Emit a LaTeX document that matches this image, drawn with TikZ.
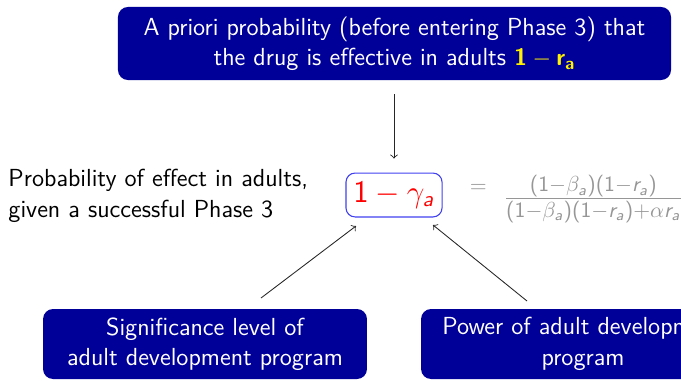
\documentclass[tikz,border=0pt]{standalone}
\renewcommand{\familydefault}{\sfdefault}
\DeclareSymbolFont{operators}{OT1}{cmss}{m}{n}
\SetSymbolFont{operators}{bold}{OT1}{cmss}{bx}{n}
\DeclareSymbolFont{sfletters}{OT1}{cmss}{m}{sl}
\DeclareMathSymbol{a}{\mathalpha}{sfletters}{`a}
\DeclareMathSymbol{r}{\mathalpha}{sfletters}{`r}
\DeclareMathAlphabet{\mathbf}{OT1}{cmss}{bx}{n}
\definecolor{boxblue}{RGB}{0,0,153}
\definecolor{resborder}{RGB}{64,64,240}
\definecolor{formulagray}{RGB}{150,150,150}
\tikzset{
  basefont/.style={font=\fontsize{11.35}{14}\selectfont},
  bluebox/.style={basefont, fill=boxblue, text=white, rounded corners=4.6pt,
    align=center, inner sep=0pt},
  resbox/.style={draw=resborder, line width=0.5pt, rounded corners=4.2pt,
    text=red, font=\fontsize{14.4}{18}\selectfont, inner sep=0pt,
    minimum width=44.2pt, minimum height=20.2pt},
  plaintext/.style={basefont, inner sep=0pt, align=left},
  formula/.style={font=\fontsize{14.9}{18}\selectfont, text=formulagray, inner sep=0pt},
  conn/.style={->, >=to, line width=0.4pt, draw=black!85}
}
\begin{document}
\begin{tikzpicture}[x=0.46pt, y=-0.46pt]
\useasboundingbox (0,0) rectangle (681,380);
\clip (0,0) rectangle (681,380);
\node[bluebox, minimum width=254.4pt, minimum height=33.6pt] (prior) at (394.5,43.5)
  {A priori probability (before entering Phase 3) that\\the drug is effective in adults {\color{yellow}$\mathbf{1-r_a}$}};
\node[resbox] (res) at (394,195) {$1-\gamma_a$};
\node[plaintext, anchor=west] (desc) at (8,196)
  {Probability of effect in adults,\\given a successful Phase 3};
\node[formula, anchor=base west] (eq) at (469.5,206.4)
  {\raisebox{6.35pt}{\fontsize{10.35}{12}\selectfont$=$}\hspace{7.7pt}$\frac{(1-\beta_a)(1-r_a)}{(1-\beta_a)(1-r_a)+\alpha r_a}$};
\node[bluebox, minimum width=149pt, minimum height=32.2pt] (sig) at (205,344)
  {Significance level of\\adult development program};
\node[bluebox, minimum width=149pt, minimum height=32.2pt] (pow) at (583,344)
  {Power of adult development\\program};
\coordinate (sigtail) at (261,298);
\coordinate (sighead) at (356,226);
\coordinate (powtail) at (527,301);
\coordinate (powhead) at (433,225);
\draw[conn, shorten <=6.4pt, shorten >=6.4pt] (prior.south -| res.north) -- (res.north);
\draw[conn] (sigtail) -- (sighead);
\draw[conn] (powtail) -- (powhead);
\end{tikzpicture}
\end{document}
